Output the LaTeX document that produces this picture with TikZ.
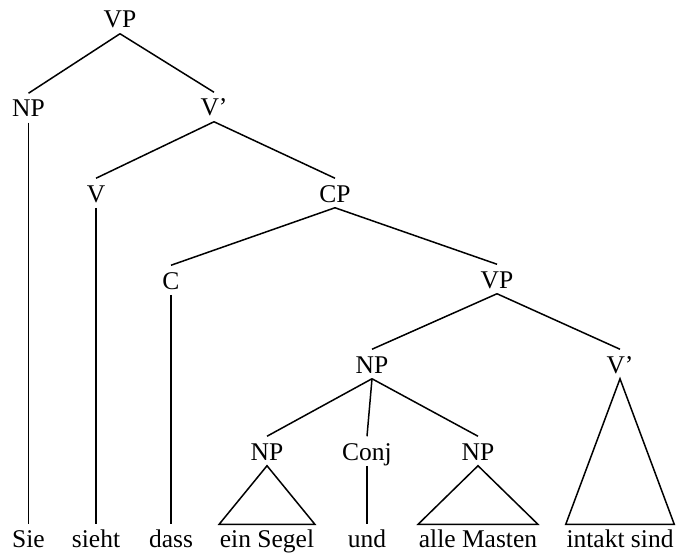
\documentclass[tikz,border=0pt]{standalone}
\usepackage{fontspec}
\setmainfont{Liberation Serif}

\begin{document}
\begin{tikzpicture}[x=1pt,y=1pt,yscale=-1,xscale=1,
  line width=1.5pt,
  cat/.style={anchor=base,inner xsep=1pt,inner ysep=5pt,text height=18pt,text depth=0pt,font=\fontsize{25.5}{30}\selectfont},
  word/.style={anchor=base,inner xsep=0pt,inner ysep=5pt,text height=17pt,text depth=0pt,font=\fontsize{25.5}{30}\selectfont}]
  \useasboundingbox (0,0) rectangle (679,556);

  % Text Node
  \node [cat] (vp)    at (120,28)  {VP};
  \node [cat] (np)    at (28.5,117) {NP};
  \node [cat] (vbar)  at (214,116) {V’};
  \node [cat] (v)     at (96,202)  {V};
  \node [cat] (cp)    at (335,202) {CP};
  \node [cat] (c)     at (171,289) {C};
  \node [cat] (vpc)   at (497,288) {VP};
  \node [cat] (npc)   at (372,373) {NP};
  \node [cat] (vbarc) at (620,373) {V’};
  \node [cat] (npa)   at (267,460) {NP};
  \node [cat] (conj)  at (367,460) {Conj};
  \node [cat] (npb)   at (478,460) {NP};

  % Text Node
  \node [word] (sie)    at (28.5,547) {Sie};
  \node [word] (sieht)  at (96,547)  {sieht};
  \node [word] (dass)   at (171,547) {dass};
  \node [word] (segel)  at (267,547) {ein Segel};
  \node [word] (und)    at (367,547) {und};
  \node [word] (masten) at (478,547) {alle Masten};
  \node [word] (intakt) at (620,547) {intakt sind};

  %Straight Lines
  \draw (vp.south) -- (np.north);
  \draw (vp.south) -- (vbar.north);
  \draw (vbar.south) -- (v.north);
  \draw (vbar.south) -- (cp.north);
  \draw (cp.south) -- (c.north);
  \draw (cp.south) -- (vpc.north);
  \draw (vpc.south) -- (npc.north);
  \draw (vpc.south) -- (vbarc.north);
  \draw (npc.south) -- (npa.north);
  \draw (npc.south) -- (conj.north);
  \draw (npc.south) -- (npb.north);

  %Straight Lines
  \draw (np.south) -- (sie.north);
  \draw (v.south) -- (sieht.north);
  \draw (c.south) -- (dass.north);
  \draw (conj.south) -- (und.north);

  %Shape: Triangle
  \draw [line join=miter] (npa.south) -- (segel.north west) -- (segel.north east) -- cycle;
  \draw [line join=miter] (npb.south) -- (masten.north west) -- (masten.north east) -- cycle;
  \draw [line join=miter] (vbarc.south) -- (intakt.north west) -- (intakt.north east) -- cycle;

\end{tikzpicture}
\end{document}
